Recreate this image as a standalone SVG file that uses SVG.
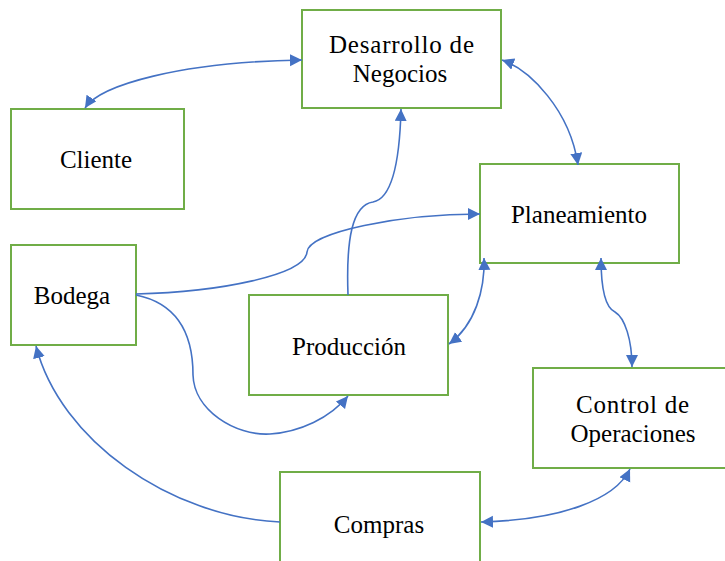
<svg xmlns="http://www.w3.org/2000/svg" width="725" height="561" viewBox="0 0 725 561">
  <style>
    .box { fill: #ffffff; stroke: #70AD47; stroke-width: 2; }
    .lbl { font-family: "Liberation Serif", "Times New Roman", serif; font-size: 25px; fill: #000000; text-anchor: middle; }
    .con { fill: none; stroke: #4472C4; stroke-width: 1.6; }
  </style>
  <defs>
    <marker id="arr" markerUnits="userSpaceOnUse" markerWidth="14" markerHeight="14" refX="12" refY="6" orient="auto-start-reverse">
      <path d="M0,0 L12,6 L0,12 z" fill="#4472C4"/>
    </marker>
  </defs>
  <rect width="725" height="561" fill="#ffffff"/>

  <g id="desarrollo">
    <rect class="box" x="302" y="10" width="199" height="98"/>
    <text class="lbl" x="401.5" y="53" textLength="145" lengthAdjust="spacing">Desarrollo de</text>
    <text class="lbl" x="400" y="82">Negocios</text>
  </g>
  <g id="cliente">
    <rect class="box" x="11" y="109" width="173" height="100"/>
    <text class="lbl" x="96" y="168">Cliente</text>
  </g>
  <g id="planeamiento">
    <rect class="box" x="480" y="164" width="199" height="99"/>
    <text class="lbl" x="579" y="223">Planeamiento</text>
  </g>
  <g id="bodega">
    <rect class="box" x="11" y="245" width="125" height="100"/>
    <text class="lbl" x="72" y="304">Bodega</text>
  </g>
  <g id="produccion">
    <rect class="box" x="249" y="295" width="199" height="100"/>
    <text class="lbl" x="349" y="355">Producción</text>
  </g>
  <g id="control">
    <rect class="box" x="533" y="368" width="200" height="100"/>
    <text class="lbl" x="632.5" y="413" textLength="113" lengthAdjust="spacing">Control de</text>
    <text class="lbl" x="633" y="442">Operaciones</text>
  </g>
  <g id="compras">
    <rect class="box" x="280" y="472" width="200" height="100"/>
    <text class="lbl" x="379" y="533">Compras</text>
  </g>

  <g id="connectors">
    <path class="con" marker-start="url(#arr)" marker-end="url(#arr)" d="M85,108 C100,85 180,62 302,60"/>
    <path class="con" marker-start="url(#arr)" marker-end="url(#arr)" d="M502,60 C530,70 570,110 578,165"/>
    <path class="con" marker-end="url(#arr)" d="M348,295 C346,240 352,205 373,202 C395,198 400,150 401,109"/>
    <path class="con" marker-end="url(#arr)" d="M136,294 C220,292 305,275 307,252 C309,232 400,214 480,214"/>
    <path class="con" marker-end="url(#arr)" d="M136,295 C185,305 193,345 193,375 C194,410 235,436 270,434 C300,432 330,418 348,396"/>
    <path class="con" marker-start="url(#arr)" marker-end="url(#arr)" d="M484,258 C485,290 475,325 449,344"/>
    <path class="con" marker-start="url(#arr)" marker-end="url(#arr)" d="M601,258 C601,290 606,308 615,312 C625,318 632,340 632,367"/>
    <path class="con" marker-start="url(#arr)" marker-end="url(#arr)" d="M630,469 C615,500 560,520 481,522"/>
    <path class="con" marker-end="url(#arr)" d="M280,522 C170,517 60,440 36,346"/>
  </g>
</svg>
